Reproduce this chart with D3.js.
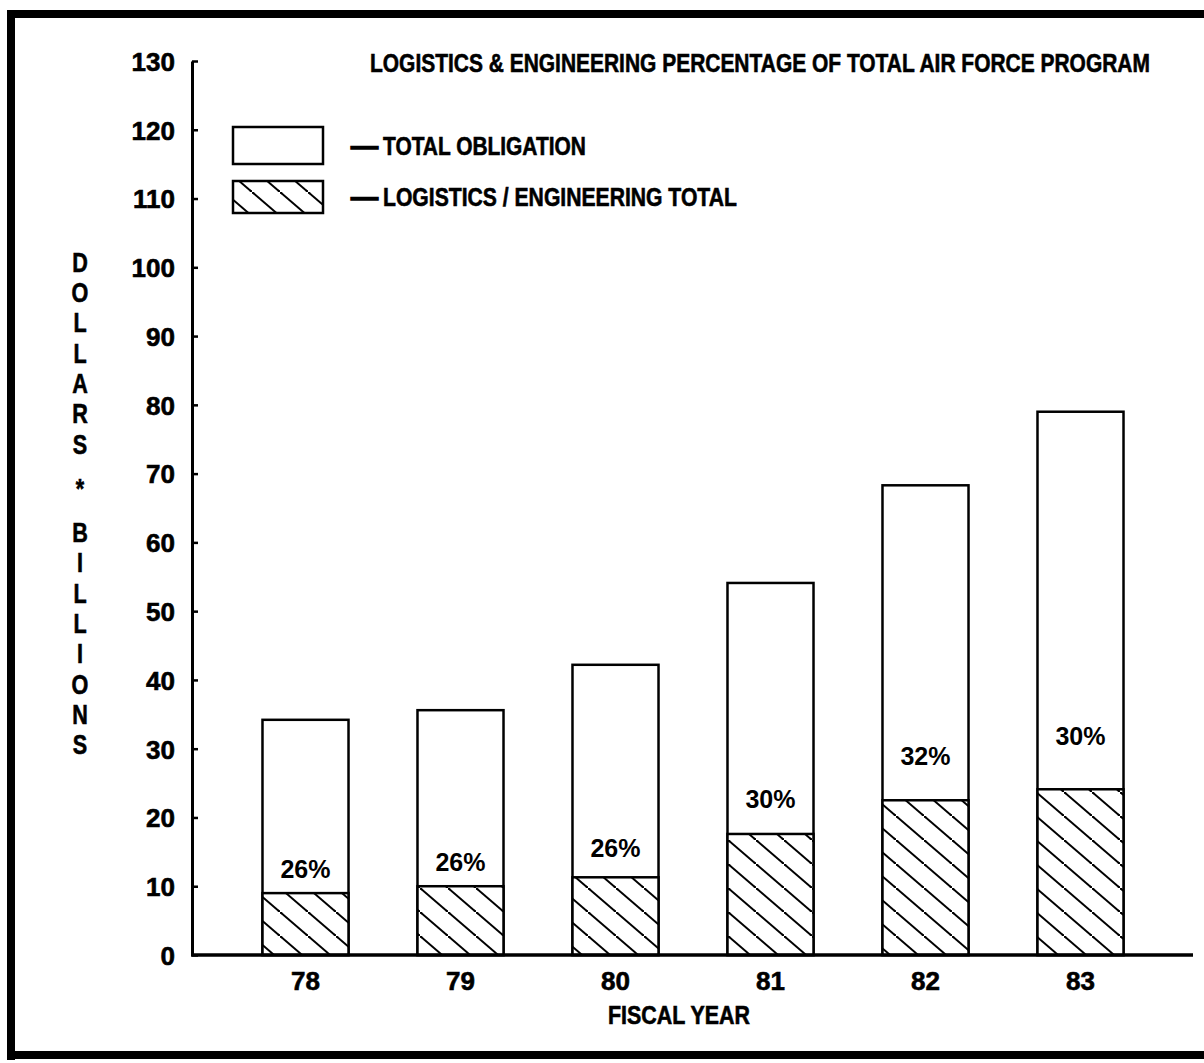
<!DOCTYPE html>
<html lang="en">
  <head>
    <meta charset="UTF-8" />
    <title>Logistics & Engineering Percentage of Total Air Force Program</title>
    <script src="https://d3js.org/d3.v7.min.js"></script>
    <style>
      body {
        margin: 0;
        background-color: #fff;
      }
      svg text {
        font-family: "Liberation Sans", Arial, sans-serif;
        font-weight: bold;
        fill: #000;
      }
      .heavy {
        stroke: #000;
        stroke-width: 0.6;
      }
    </style>
  </head>
  <body>
    <div class="chart"></div>

    <script>
      // values (billions of dollars)
      const years = ["78", "79", "80", "81", "82", "83"];
      const totalObligation = [34.2, 35.6, 42.2, 54.1, 68.3, 79.0];
      const logEngTotal = [9.0, 10.0, 11.3, 17.6, 22.5, 24.1];
      const pctLabels = [26, 26, 26, 30, 32, 30];
      const yTicks = [0, 10, 20, 30, 40, 50, 60, 70, 80, 90, 100, 110, 120, 130];
      const legendItems = ["TOTAL OBLIGATION", "LOGISTICS / ENGINEERING TOTAL"];
      const title = "LOGISTICS & ENGINEERING PERCENTAGE OF TOTAL AIR FORCE PROGRAM";
      const yTitle = "DOLLARS * BILLIONS";
      const xTitle = "FISCAL YEAR";

      const W = 1204,
        H = 1063;
      const axisX = 192;

      const svg = d3
        .select(".chart")
        .append("svg")
        .attr("width", W)
        .attr("height", H);

      svg.append("rect").attr("width", W).attr("height", H).attr("fill", "#fff");

      // squeeze a text horizontally so it spans the given width (condensed look of the original)
      function fitText(parent, str, x, y, size, targetW) {
        const t = parent.append("text").attr("class", "heavy").attr("font-size", size).text(str);
        const w = t.node().getComputedTextLength();
        t.attr("transform", `translate(${x},${y}) scale(${targetW / w},1)`);
        return t;
      }

      // hatch pattern, lines running down to the right
      const defs = svg.append("defs");
      const pat = defs
        .append("pattern")
        .attr("id", "hatch")
        .attr("patternUnits", "userSpaceOnUse")
        .attr("width", 28)
        .attr("height", 24);
      pat.append("rect").attr("width", 28).attr("height", 24).attr("fill", "#fff");
      [[-28, -24], [0, 0], [28, 24]].forEach(([dx, dy]) => {
        pat
          .append("line")
          .attr("x1", dx - 2)
          .attr("y1", dy - 24 / 14)
          .attr("x2", dx + 30)
          .attr("y2", dy + 24 + 24 / 14)
          .attr("stroke", "#000")
          .attr("stroke-width", 2);
      });

      // page frame from the scan
      svg.append("rect").attr("x", 7).attr("y", 10).attr("width", 8).attr("height", 1050).attr("fill", "#000");
      svg.append("rect").attr("x", 7).attr("y", 10).attr("width", W - 7).attr("height", 8).attr("fill", "#000");
      svg.append("rect").attr("x", 7).attr("y", 1051).attr("width", W - 7).attr("height", 8).attr("fill", "#000");

      const y = d3.scaleLinear().domain([0, 130]).range([955, 61]);
      const x = d3
        .scaleBand()
        .domain(years)
        .range([228, 1158])
        .paddingInner(0.445)
        .paddingOuter(0.2225);

      // y axis: ticks point inward, labels on the left
      const yAxis = svg
        .append("g")
        .attr("transform", `translate(${axisX},0)`)
        .call(
          d3
            .axisLeft(y)
            .tickValues(yTicks)
            .tickSizeInner(-6)
            .tickSizeOuter(0)
            .tickPadding(17)
        );
      yAxis.attr("font-family", null).attr("font-size", null);
      yAxis.select(".domain").attr("stroke", "#000").attr("stroke-width", 3);
      yAxis.selectAll(".tick line").attr("stroke", "#000").attr("stroke-width", 2.5);
      yAxis.selectAll(".tick text").attr("class", "heavy").attr("font-size", 26).attr("dy", "0.36em");

      // bars
      const data = years.map((yr, i) => ({
        year: yr,
        total: totalObligation[i],
        le: logEngTotal[i],
        pct: pctLabels[i],
      }));

      const bars = svg.selectAll(".bar").data(data).enter().append("g").attr("class", "bar");

      bars
        .append("rect")
        .attr("x", (d) => x(d.year))
        .attr("y", (d) => y(d.total))
        .attr("width", x.bandwidth())
        .attr("height", (d) => y(0) - y(d.total))
        .attr("fill", "#fff")
        .attr("stroke", "#000")
        .attr("stroke-width", 2.5);

      bars
        .append("rect")
        .attr("x", (d) => x(d.year))
        .attr("y", (d) => y(d.le))
        .attr("width", x.bandwidth())
        .attr("height", (d) => y(0) - y(d.le))
        .attr("fill", "url(#hatch)")
        .attr("stroke", "#000")
        .attr("stroke-width", 2.5);

      bars
        .append("text")
        .attr("x", (d) => x(d.year) + x.bandwidth() / 2)
        .attr("y", (d) => y(d.le) - 0.14 * (y(d.le) - y(d.total)))
        .attr("dy", "0.36em")
        .attr("text-anchor", "middle")
        .attr("font-size", 25)
        .text((d) => d.pct + "%");

      // x axis baseline + labels
      svg
        .append("line")
        .attr("x1", axisX - 1)
        .attr("x2", 1193)
        .attr("y1", y(0))
        .attr("y2", y(0))
        .attr("stroke", "#000")
        .attr("stroke-width", 3.5);

      const xAxis = svg
        .append("g")
        .attr("transform", `translate(0,${y(0)})`)
        .call(d3.axisBottom(x).tickSize(0).tickPadding(17));
      xAxis.attr("font-family", null).attr("font-size", null);
      xAxis.select(".domain").remove();
      xAxis.selectAll(".tick text").attr("class", "heavy").attr("font-size", 26).attr("dy", "0.71em");

      fitText(svg, xTitle, 608, 1024, 25, 142);

      // vertical stacked y title
      let cy = 262;
      const yTitleChars = [];
      yTitle.split("").forEach((c) => {
        if (c === " ") {
          cy += 14;
          return;
        }
        yTitleChars.push({ c: c, cy: cy });
        cy += 30.3;
      });
      svg
        .selectAll(".ylet")
        .data(yTitleChars)
        .enter()
        .append("text")
        .attr("class", "ylet heavy")
        .attr("transform", (d) => `translate(80,${d.cy}) scale(0.8,1)`)
        .attr("dy", "0.36em")
        .attr("text-anchor", "middle")
        .attr("font-size", 27)
        .text((d) => d.c);

      // title
      fitText(svg, title, 370, 72, 26, 780);

      // legend
      const legendBoxes = [
        { y: 127, h: 37, fill: "#fff", textW: 203 },
        { y: 181, h: 32, fill: "url(#hatch)", textW: 354 },
      ];
      const legend = svg
        .selectAll(".legend")
        .data(legendItems)
        .enter()
        .append("g")
        .attr("class", "legend");

      legend
        .append("rect")
        .attr("x", 233)
        .attr("y", (d, i) => legendBoxes[i].y)
        .attr("width", 90)
        .attr("height", (d, i) => legendBoxes[i].h)
        .attr("fill", (d, i) => legendBoxes[i].fill)
        .attr("stroke", "#000")
        .attr("stroke-width", 2.5);

      legend.each(function (d, i) {
        const g = d3.select(this);
        const b = legendBoxes[i];
        const baseY = b.y + b.h / 2 + 9;
        fitText(g, "\u2014", 351, baseY, 26, 27).style("stroke-width", 1.5);
        fitText(g, d, 383, baseY, 26, b.textW);
      });
    </script>
  </body>
</html>
